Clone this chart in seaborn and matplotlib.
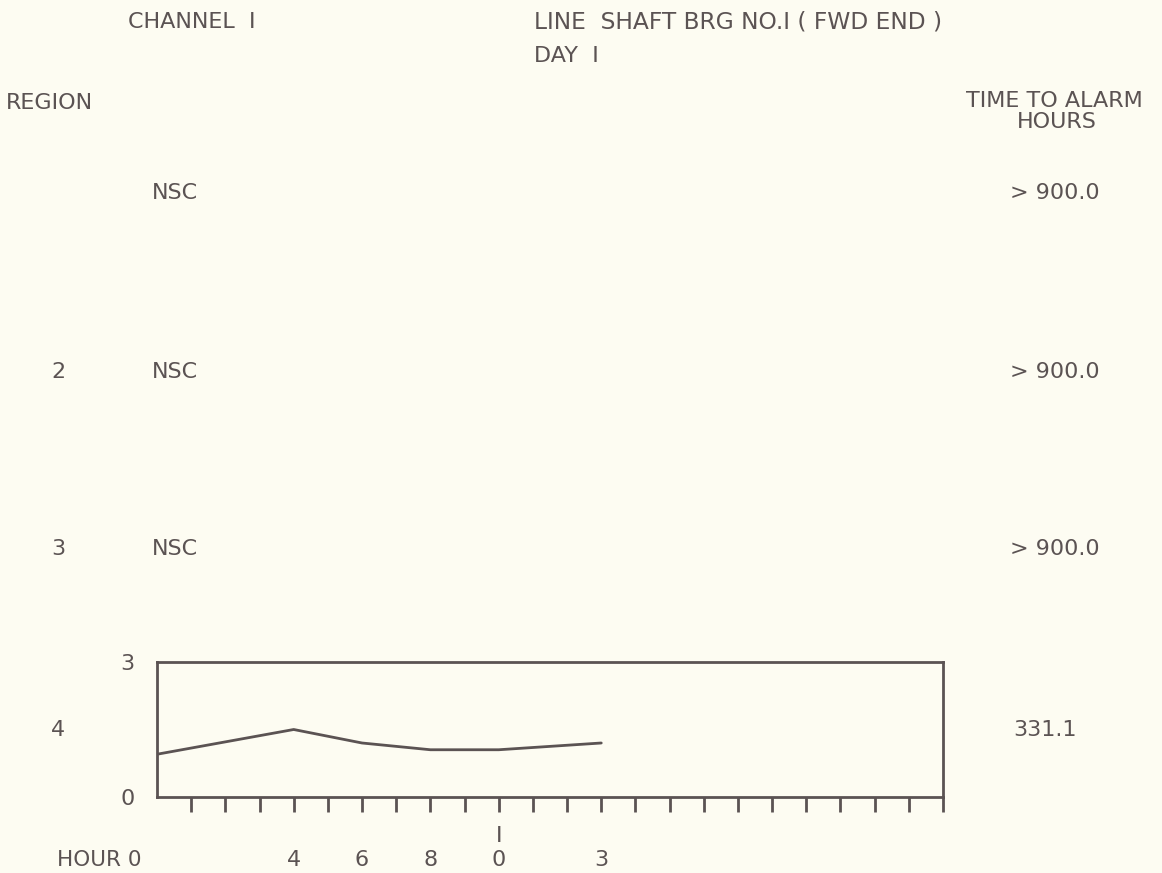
import numpy as np
import pandas as pd
import matplotlib
matplotlib.use("Agg")
import matplotlib.pyplot as plt
import matplotlib.transforms as mtransforms
import seaborn as sns

# Trend for region 4 (hours since start vs. level)
hours = [0, 4, 6, 8, 10, 13]
level = [0.95, 1.5, 1.2, 1.05, 1.05, 1.2]

# Region table
region_ids = ["", "2", "3", "4"]
region_status = ["NSC", "NSC", "NSC", ""]
time_to_alarm = ["> 900.0", "> 900.0", "> 900.0", "331.1"]

# Hour axis labels (tens digit stacked above the units digit)
hour_ticks = [4, 6, 8, 10, 13]
hour_units = ["4", "6", "8", "0", "3"]
hour_tens = ["", "", "", "I", ""]

sns.set_theme(style="white")
INK = "#5b5353"
PAPER = "#fdfcf2"
plt.rcParams["font.family"] = ["DejaVu Sans"]

W, H = 1162, 873
fig = plt.figure(figsize=(W / 100, H / 100), dpi=100, facecolor=PAPER)

def fx(px):
    return px / W

def fy(py):
    return 1 - py / H

fs = 16
txt = dict(color=INK, fontsize=fs, va="center")

# Header
fig.text(fx(128), fy(22), "CHANNEL  I", ha="left", **txt)
fig.text(fx(534), fy(22), "LINE  SHAFT BRG NO.I ( FWD END )", ha="left",
         color=INK, fontsize=16.8, va="center")
fig.text(fx(534), fy(56), "DAY  I", ha="left", **txt)
fig.text(fx(6), fy(103), "REGION", ha="left", **txt)
fig.text(fx(1054), fy(101), "TIME TO ALARM", ha="center", **txt)
fig.text(fx(1057), fy(122), "HOURS", ha="center", **txt)

# Region rows
row_y = [193, 372, 549, 730]
for rid, st, tta, y in zip(region_ids, region_status, time_to_alarm, row_y):
    if rid:
        fig.text(fx(58), fy(y), rid, ha="center", **txt)
    if st:
        fig.text(fx(152), fy(y), st, ha="left", **txt)
    if tta.startswith(">"):
        fig.text(fx(1100), fy(y), tta, ha="right", **txt)
    else:
        fig.text(fx(1045), fy(y), tta, ha="center", **txt)

# Trend panel
left, right, top, bottom = 157, 943, 662, 797
ax = fig.add_axes([fx(left), fy(bottom), fx(right - left), (bottom - top) / H])
ax.set_facecolor(PAPER)
df = pd.DataFrame({"hour": hours, "level": level})
sns.lineplot(data=df, x="hour", y="level", ax=ax, color=INK, linewidth=2.0)
ax.set_xlim(0, 23)
ax.set_ylim(0, 3)
ax.set_xlabel("")
ax.set_ylabel("")
for s in ax.spines.values():
    s.set_visible(True)
    s.set_color(INK)
    s.set_linewidth(2.0)
ax.set_xticks(np.arange(1, 24))
ax.set_xticklabels([])
ax.tick_params(axis="x", direction="out", length=11, width=2.0, color=INK, bottom=True)
ax.set_yticks([0, 3])
ax.set_yticklabels(["0", "3"])
ax.tick_params(axis="y", length=0, pad=16, labelsize=fs, labelcolor=INK)

# Hour labels beneath the panel
trans = mtransforms.blended_transform_factory(ax.transData, fig.transFigure)
for h, u, t in zip(hour_ticks, hour_units, hour_tens):
    ax.text(h, fy(860), u, transform=trans, ha="center", va="center",
            color=INK, fontsize=fs, clip_on=False)
    if t:
        ax.text(h, fy(836), t, transform=trans, ha="center", va="center",
                color=INK, fontsize=fs, clip_on=False)
fig.text(fx(57), fy(860), "HOUR 0", ha="left", va="center", color=INK, fontsize=15.5)

fig.savefig("out.png", dpi=100, facecolor=PAPER)
